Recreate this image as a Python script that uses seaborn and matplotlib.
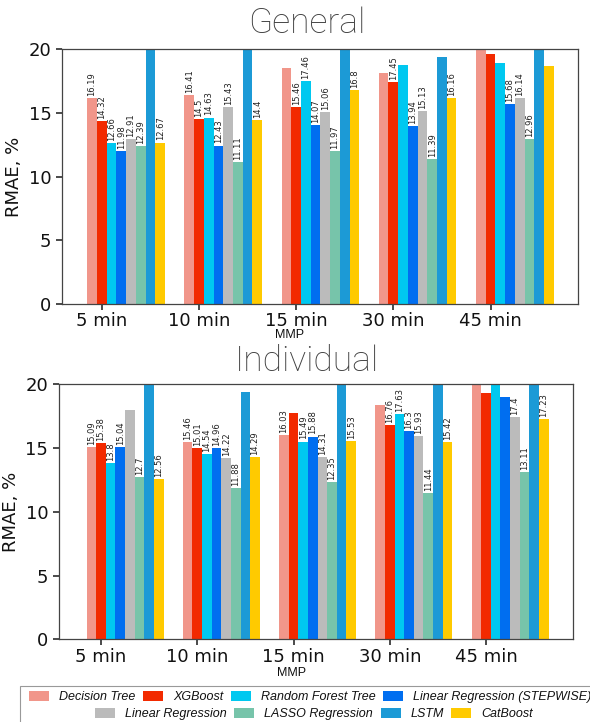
import numpy as np
import pandas as pd
import matplotlib
matplotlib.use("Agg")
import matplotlib.pyplot as plt
from matplotlib.patches import Patch, Rectangle
import seaborn as sns

sns.set_theme(style="ticks")
plt.rcParams['font.family'] = ['DejaVu Sans']
plt.rcParams['text.color'] = '#111111'
plt.rcParams['axes.labelcolor'] = '#111111'
plt.rcParams['xtick.labelcolor'] = '#111111'
plt.rcParams['ytick.labelcolor'] = '#111111'

intervals = ['5 min', '10 min', '15 min', '30 min', '45 min']
models = ['Decision Tree', 'XGBoost', 'Random Forest Tree', 'Linear Regression (STEPWISE)',
          'Linear Regression', 'LASSO Regression', 'LSTM', 'CatBoost']
colors = ['#F1968A', '#F22A00', '#00C8F0', '#006EF0', '#BBBBBB', '#77C4AA', '#1C9AD6', '#FFCA00']

# rows = models, columns = intervals (values above 20 are off the chart)
general = [
    [16.19, 16.41, 18.55, 18.10, 21.00],
    [14.32, 14.50, 15.46, 17.45, 19.58],
    [12.66, 14.63, 17.46, 18.74, 18.87],
    [11.98, 12.43, 14.07, 13.94, 15.68],
    [12.91, 15.43, 15.06, 15.13, 16.14],
    [12.39, 11.11, 11.97, 11.39, 12.96],
    [21.00, 21.00, 21.00, 19.35, 21.00],
    [12.67, 14.40, 16.80, 16.16, 18.66],
]
individual = [
    [15.09, 15.46, 16.03, 18.35, 21.00],
    [15.38, 15.01, 17.72, 16.76, 19.26],
    [13.80, 14.54, 15.49, 17.63, 21.00],
    [15.04, 14.96, 15.88, 16.30, 19.00],
    [17.93, 14.22, 14.31, 15.93, 17.40],
    [12.70, 11.88, 12.35, 11.44, 13.11],
    [21.00, 19.34, 21.00, 21.00, 21.00],
    [12.56, 14.29, 15.53, 15.42, 17.23],
]


def to_long(values):
    rows = []
    for m, vals in zip(models, values):
        for t, v in zip(intervals, vals):
            rows.append({'MMP': t, 'model': m, 'RMAE': v})
    return pd.DataFrame(rows)


fig = plt.figure(figsize=(5.9, 7.22), dpi=100)
ax1 = fig.add_axes([0.105, 0.579, 0.8746, 0.353])
ax2 = fig.add_axes([0.0995, 0.1143, 0.871, 0.354])

for ax, values, title, ty, xl in [(ax1, general, 'General', 1 - 23 / 722, -0.66),
                                  (ax2, individual, 'Individual', 1 - 361 / 722, -0.69)]:
    df = to_long(values)
    sns.barplot(data=df, x='MMP', y='RMAE', hue='model', order=intervals, hue_order=models,
                palette=colors, linewidth=0, saturation=1, ax=ax, legend=False, errorbar=None)
    for cont in ax.containers:
        labels = [f"{b.get_height():g}" if b.get_height() < 17.7 else "" for b in cont]
        ax.bar_label(cont, labels=labels, rotation=90, fontsize=6, padding=1.5, color='#222222')
    ax.set_ylim(0, 20)
    ax.set_xlim(xl, 4.65)
    ax.set_xticks(np.arange(5) - 0.25)
    ax.set_xticklabels(intervals, fontsize=13)
    ax.set_yticks([0, 5, 10, 15, 20])
    ax.tick_params(axis='y', labelsize=13, length=4, color='#333333')
    ax.tick_params(axis='x', length=4, color='#333333', pad=2)
    ax.set_ylabel('RMAE, %', fontsize=13, labelpad=4)
    ax.set_xlabel('')
    for s in ax.spines.values():
        s.set_visible(True)
        s.set_color('#444444')
        s.set_linewidth(0.9)
    fig.text(307 / 590, ty, title, ha='center', va='center', fontsize=25.5,
             family=['Roboto', 'DejaVu Sans'], weight='light', color='#404040')

fig.text(290 / 590, 1 - 335 / 722, 'MMP', ha='center', va='center', fontsize=9,
         family=['Liberation Sans', 'DejaVu Sans'])
fig.text(292 / 590, 1 - 673 / 722, 'MMP', ha='center', va='center', fontsize=9,
         family=['Liberation Sans', 'DejaVu Sans'])

# legend, two centred rows inside one frame
handles = [Patch(facecolor=c, edgecolor='none', label=m) for c, m in zip(colors, models)]
fig.patches.append(Rectangle((20 / 590, -0.01), 1.0, 1 - 686 / 722 + 0.01,
                             transform=fig.transFigure, facecolor='white',
                             edgecolor='#999999', linewidth=0.8))
lfont = {'family': ['Liberation Sans', 'DejaVu Sans'], 'style': 'italic', 'size': 9}
for hs, cx, cy in [(handles[:4], 310 / 590, 1 - 697 / 722), (handles[4:], 314 / 590, 1 - 714 / 722)]:
    fig.legend(handles=hs, loc='center', bbox_to_anchor=(cx, cy), ncol=4, frameon=False,
               prop=lfont, handlelength=1.6, handleheight=0.8, handletextpad=0.8,
               columnspacing=0.6, borderpad=0, borderaxespad=0)

fig.savefig('out.png', dpi=100)
